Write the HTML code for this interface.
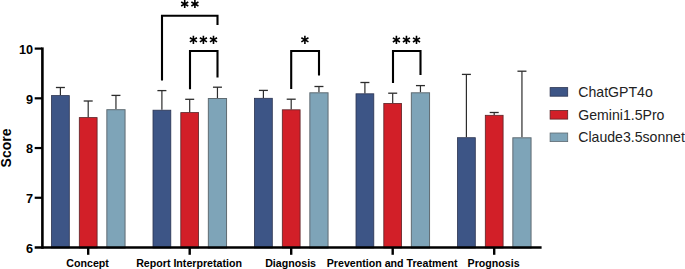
<!DOCTYPE html>
<html><head><meta charset="utf-8"><style>
html,body{margin:0;padding:0;background:#fff;}
svg{display:block;}
text{font-family:"Liberation Sans",sans-serif;}
</style></head><body>
<svg width="685" height="269" viewBox="0 0 685 269">
<line x1="60.40" y1="95.20" x2="60.40" y2="87.50" stroke="#2c2c2c" stroke-width="1.2"/>
<line x1="55.90" y1="87.50" x2="64.90" y2="87.50" stroke="#2c2c2c" stroke-width="1.3"/>
<rect x="51.50" y="95.60" width="17.80" height="152.30" fill="#3d5586" stroke="#2b3350" stroke-width="0.8"/>
<line x1="88.20" y1="117.20" x2="88.20" y2="101.00" stroke="#2c2c2c" stroke-width="1.2"/>
<line x1="83.70" y1="101.00" x2="92.70" y2="101.00" stroke="#2c2c2c" stroke-width="1.3"/>
<rect x="79.30" y="117.60" width="17.80" height="130.30" fill="#d21f28" stroke="#5a2326" stroke-width="0.8"/>
<line x1="115.95" y1="109.20" x2="115.95" y2="95.40" stroke="#2c2c2c" stroke-width="1.2"/>
<line x1="111.45" y1="95.40" x2="120.45" y2="95.40" stroke="#2c2c2c" stroke-width="1.3"/>
<rect x="106.85" y="109.70" width="18.20" height="138.30" fill="#7ea4b8" stroke="#5f6b72" stroke-width="1.0"/>
<line x1="161.90" y1="109.80" x2="161.90" y2="90.60" stroke="#2c2c2c" stroke-width="1.2"/>
<line x1="157.40" y1="90.60" x2="166.40" y2="90.60" stroke="#2c2c2c" stroke-width="1.3"/>
<rect x="153.00" y="110.20" width="17.80" height="137.70" fill="#3d5586" stroke="#2b3350" stroke-width="0.8"/>
<line x1="189.70" y1="112.20" x2="189.70" y2="99.30" stroke="#2c2c2c" stroke-width="1.2"/>
<line x1="185.20" y1="99.30" x2="194.20" y2="99.30" stroke="#2c2c2c" stroke-width="1.3"/>
<rect x="180.80" y="112.60" width="17.80" height="135.30" fill="#d21f28" stroke="#5a2326" stroke-width="0.8"/>
<line x1="217.45" y1="98.00" x2="217.45" y2="87.20" stroke="#2c2c2c" stroke-width="1.2"/>
<line x1="212.95" y1="87.20" x2="221.95" y2="87.20" stroke="#2c2c2c" stroke-width="1.3"/>
<rect x="208.35" y="98.50" width="18.20" height="149.50" fill="#7ea4b8" stroke="#5f6b72" stroke-width="1.0"/>
<line x1="263.40" y1="97.90" x2="263.40" y2="90.40" stroke="#2c2c2c" stroke-width="1.2"/>
<line x1="258.90" y1="90.40" x2="267.90" y2="90.40" stroke="#2c2c2c" stroke-width="1.3"/>
<rect x="254.50" y="98.30" width="17.80" height="149.60" fill="#3d5586" stroke="#2b3350" stroke-width="0.8"/>
<line x1="291.20" y1="109.40" x2="291.20" y2="99.20" stroke="#2c2c2c" stroke-width="1.2"/>
<line x1="286.70" y1="99.20" x2="295.70" y2="99.20" stroke="#2c2c2c" stroke-width="1.3"/>
<rect x="282.30" y="109.80" width="17.80" height="138.10" fill="#d21f28" stroke="#5a2326" stroke-width="0.8"/>
<line x1="318.95" y1="92.30" x2="318.95" y2="86.50" stroke="#2c2c2c" stroke-width="1.2"/>
<line x1="314.45" y1="86.50" x2="323.45" y2="86.50" stroke="#2c2c2c" stroke-width="1.3"/>
<rect x="309.85" y="92.80" width="18.20" height="155.20" fill="#7ea4b8" stroke="#5f6b72" stroke-width="1.0"/>
<line x1="364.90" y1="93.40" x2="364.90" y2="82.50" stroke="#2c2c2c" stroke-width="1.2"/>
<line x1="360.40" y1="82.50" x2="369.40" y2="82.50" stroke="#2c2c2c" stroke-width="1.3"/>
<rect x="356.00" y="93.80" width="17.80" height="154.10" fill="#3d5586" stroke="#2b3350" stroke-width="0.8"/>
<line x1="392.70" y1="103.00" x2="392.70" y2="93.20" stroke="#2c2c2c" stroke-width="1.2"/>
<line x1="388.20" y1="93.20" x2="397.20" y2="93.20" stroke="#2c2c2c" stroke-width="1.3"/>
<rect x="383.80" y="103.40" width="17.80" height="144.50" fill="#d21f28" stroke="#5a2326" stroke-width="0.8"/>
<line x1="420.45" y1="92.30" x2="420.45" y2="85.60" stroke="#2c2c2c" stroke-width="1.2"/>
<line x1="415.95" y1="85.60" x2="424.95" y2="85.60" stroke="#2c2c2c" stroke-width="1.3"/>
<rect x="411.35" y="92.80" width="18.20" height="155.20" fill="#7ea4b8" stroke="#5f6b72" stroke-width="1.0"/>
<line x1="466.40" y1="137.30" x2="466.40" y2="74.40" stroke="#2c2c2c" stroke-width="1.2"/>
<line x1="461.90" y1="74.40" x2="470.90" y2="74.40" stroke="#2c2c2c" stroke-width="1.3"/>
<rect x="457.50" y="137.70" width="17.80" height="110.20" fill="#3d5586" stroke="#2b3350" stroke-width="0.8"/>
<line x1="494.20" y1="114.90" x2="494.20" y2="112.50" stroke="#2c2c2c" stroke-width="1.2"/>
<line x1="489.70" y1="112.50" x2="498.70" y2="112.50" stroke="#2c2c2c" stroke-width="1.3"/>
<rect x="485.30" y="115.30" width="17.80" height="132.60" fill="#d21f28" stroke="#5a2326" stroke-width="0.8"/>
<line x1="521.95" y1="137.30" x2="521.95" y2="71.20" stroke="#2c2c2c" stroke-width="1.2"/>
<line x1="517.45" y1="71.20" x2="526.45" y2="71.20" stroke="#2c2c2c" stroke-width="1.3"/>
<rect x="512.85" y="137.80" width="18.20" height="110.20" fill="#7ea4b8" stroke="#5f6b72" stroke-width="1.0"/>
<line x1="42.4" y1="47.4" x2="42.4" y2="248.75" stroke="#000" stroke-width="2.6"/>
<line x1="34.7" y1="247.5" x2="541.6" y2="247.5" stroke="#000" stroke-width="2.6"/>
<line x1="34.7" y1="48.60" x2="42" y2="48.60" stroke="#000" stroke-width="2.2"/>
<line x1="34.7" y1="98.32" x2="42" y2="98.32" stroke="#000" stroke-width="2.2"/>
<line x1="34.7" y1="148.04" x2="42" y2="148.04" stroke="#000" stroke-width="2.2"/>
<line x1="34.7" y1="197.76" x2="42" y2="197.76" stroke="#000" stroke-width="2.2"/>
<text x="33.0" y="53.90" text-anchor="end" font-size="12.7" font-weight="bold">10</text>
<text x="33.0" y="103.62" text-anchor="end" font-size="12.7" font-weight="bold">9</text>
<text x="33.0" y="153.34" text-anchor="end" font-size="12.7" font-weight="bold">8</text>
<text x="33.0" y="203.06" text-anchor="end" font-size="12.7" font-weight="bold">7</text>
<text x="33.0" y="252.78" text-anchor="end" font-size="12.7" font-weight="bold">6</text>
<line x1="88.20" y1="247.5" x2="88.20" y2="254.8" stroke="#000" stroke-width="2.4"/>
<text x="87.60" y="266.6" text-anchor="middle" font-size="10.65" font-weight="bold">Concept</text>
<line x1="189.70" y1="247.5" x2="189.70" y2="254.8" stroke="#000" stroke-width="2.4"/>
<text x="189.10" y="266.6" text-anchor="middle" font-size="10.65" font-weight="bold">Report Interpretation</text>
<line x1="291.20" y1="247.5" x2="291.20" y2="254.8" stroke="#000" stroke-width="2.4"/>
<text x="290.60" y="266.6" text-anchor="middle" font-size="10.65" font-weight="bold">Diagnosis</text>
<line x1="392.70" y1="247.5" x2="392.70" y2="254.8" stroke="#000" stroke-width="2.4"/>
<text x="392.10" y="266.6" text-anchor="middle" font-size="10.65" font-weight="bold">Prevention and Treatment</text>
<line x1="494.20" y1="247.5" x2="494.20" y2="254.8" stroke="#000" stroke-width="2.4"/>
<text x="493.60" y="266.6" text-anchor="middle" font-size="10.65" font-weight="bold">Prognosis</text>
<text transform="translate(11.2,148) rotate(-90)" text-anchor="middle" font-size="14" font-weight="bold">Score</text>
<path d="M162.00 80.50 V15.80 H217.50 V25.10" fill="none" stroke="#000" stroke-width="2.1" stroke-linejoin="miter"/>
<path d="M190.00 89.30 V51.00 H217.50 V77.60" fill="none" stroke="#000" stroke-width="2.1" stroke-linejoin="miter"/>
<path d="M291.20 89.00 V51.00 H319.00 V75.50" fill="none" stroke="#000" stroke-width="2.1" stroke-linejoin="miter"/>
<path d="M393.00 82.90 V51.00 H420.50 V75.00" fill="none" stroke="#000" stroke-width="2.1" stroke-linejoin="miter"/>
<path d="M184.70 8.10L184.70 -0.10M181.15 6.05L188.25 1.95M181.15 1.95L188.25 6.05" stroke="#000" stroke-width="1.6" fill="none"/>
<path d="M194.90 8.10L194.90 -0.10M191.35 6.05L198.45 1.95M191.35 1.95L198.45 6.05" stroke="#000" stroke-width="1.6" fill="none"/>
<path d="M193.40 43.90L193.40 35.70M189.85 41.85L196.95 37.75M189.85 37.75L196.95 41.85" stroke="#000" stroke-width="1.6" fill="none"/>
<path d="M203.40 43.90L203.40 35.70M199.85 41.85L206.95 37.75M199.85 37.75L206.95 41.85" stroke="#000" stroke-width="1.6" fill="none"/>
<path d="M213.50 43.90L213.50 35.70M209.95 41.85L217.05 37.75M209.95 37.75L217.05 41.85" stroke="#000" stroke-width="1.6" fill="none"/>
<path d="M304.90 43.90L304.90 35.70M301.35 41.85L308.45 37.75M301.35 37.75L308.45 41.85" stroke="#000" stroke-width="1.6" fill="none"/>
<path d="M396.40 44.00L396.40 35.80M392.85 41.95L399.95 37.85M392.85 37.85L399.95 41.95" stroke="#000" stroke-width="1.6" fill="none"/>
<path d="M406.45 44.00L406.45 35.80M402.90 41.95L410.00 37.85M402.90 37.85L410.00 41.95" stroke="#000" stroke-width="1.6" fill="none"/>
<path d="M416.50 44.00L416.50 35.80M412.95 41.95L420.05 37.85M412.95 37.85L420.05 41.95" stroke="#000" stroke-width="1.6" fill="none"/>
<rect x="550.1" y="87.60" width="17.6" height="8.6" fill="#3d5586" stroke="#2b3350" stroke-width="0.8"/>
<text x="578.3" y="96.80" font-size="14.1" fill="#222">ChatGPT4o</text>
<rect x="550.1" y="110.50" width="17.6" height="8.6" fill="#d21f28" stroke="#5a2326" stroke-width="0.8"/>
<text x="578.3" y="119.70" font-size="14.1" fill="#222">Gemini1.5Pro</text>
<rect x="550.1" y="133.00" width="17.6" height="8.6" fill="#7ea4b8" stroke="#5f6b72" stroke-width="0.8"/>
<text x="578.3" y="142.20" font-size="14.1" fill="#222">Claude3.5sonnet</text>
</svg>
</body></html>
